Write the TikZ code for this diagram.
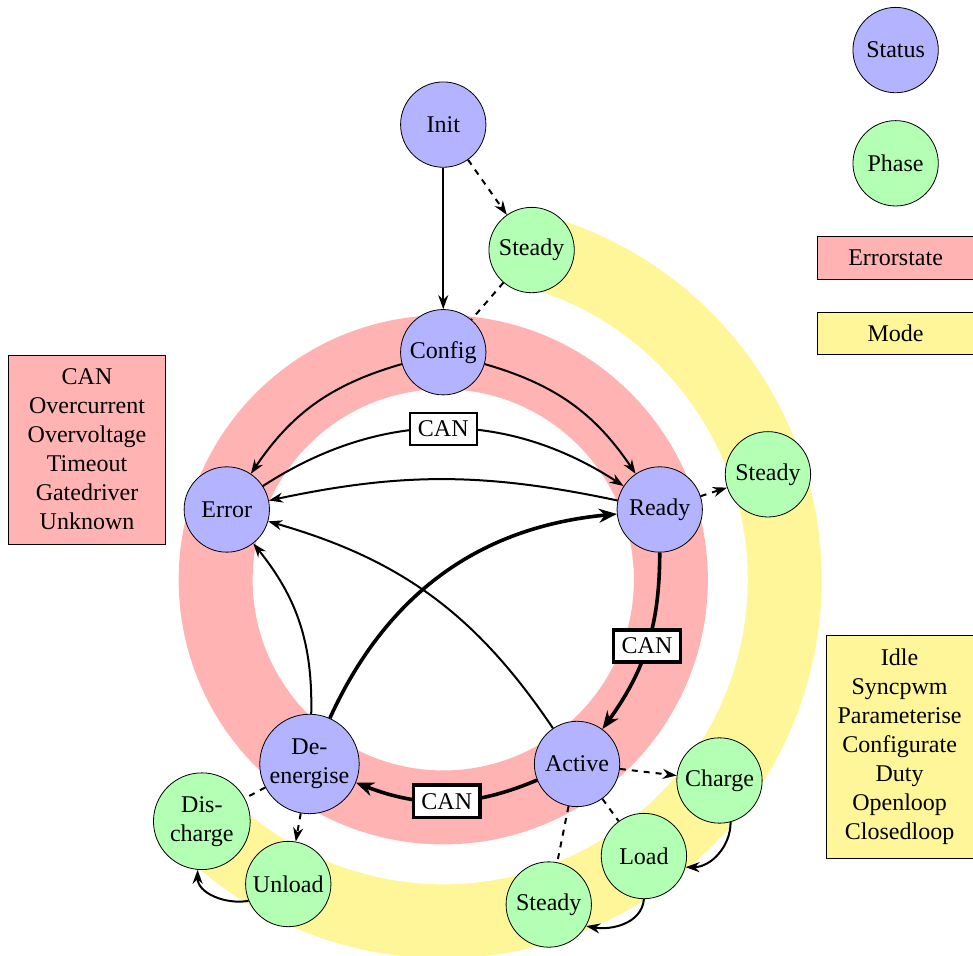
\documentclass[tikz,border=0pt,12pt]{standalone}
\usepackage{fontspec}
\setmainfont{Liberation Serif}
\usetikzlibrary{arrows.meta}
\definecolor{StatusBlue}{RGB}{179,179,255}
\definecolor{PhaseGreen}{RGB}{179,255,179}
\definecolor{ErrorRed}{RGB}{255,179,179}
\definecolor{ModeYellow}{RGB}{255,246,153}
\tikzset{
  status/.style={circle,draw,fill=StatusBlue,minimum size=1.5cm,inner sep=1pt,align=center},
  phase/.style={circle,draw,fill=PhaseGreen,minimum size=1.5cm,inner sep=1pt,align=center},
  errorbox/.style={draw,fill=ErrorRed,minimum width=2.75cm,align=center},
  modebox/.style={draw,fill=ModeYellow,align=center},
  trans/.style={-{Stealth[length=7pt,width=5pt]},line width=1pt},
  cantrans/.style={-{Stealth[length=9pt,width=7pt]},line width=1.8pt},
  link/.style={dashed,line width=1pt},
  canlabel/.style={draw,fill=white},
}

\begin{document}
\begin{tikzpicture}
  \useasboundingbox (-7.79,-6.61) rectangle (9.31,10.19);
  % error ring and mode arc
  \draw[ErrorRed,line width=1.3cm] (0,0) circle (4);
  \draw[ModeYellow,line width=1.3cm] (75:6) arc[start angle=75,end angle=-135,radius=6];

  \node[status] (init) at (90:8) {Init};
  \node[status] (config) at (90:4) {Config};
  \node[status] (error) at (162:4) {Error};
  \node[status] (ready) at (18:4) {Ready};
  \node[status] (active) at (-54:4) {Active};
  \node[status,minimum size=1.7cm] (deenergise) at (-126:4) {De-\\energise};

  \node[phase] (steadyinit) at (75:6) {Steady};
  \node[phase] (steadyready) at (18:6) {Steady};
  \node[phase] (charge) at (-36:6) {Charge};
  \node[phase] (load) at (-54:6) {Load};
  \node[phase] (steadyactive) at (-72:6) {Steady};
  \node[phase] (unload) at (-117:6) {Unload};
  \node[phase,minimum size=1.7cm] (discharge) at (-135:6) {Dis-\\charge};

  % status transitions
  \draw[trans] (init) -- (config);
  \draw[trans] (config) to[bend right=20] (error);
  \draw[trans] (config) to[bend left=20] (ready);
  \draw[trans] (error) to[bend left=33] node[canlabel] {CAN} (ready);
  \draw[trans] (ready) to[bend right=12] (error);
  \draw[trans] (active) to[bend right=20] (error);
  \draw[trans] (deenergise) to[bend right=20] (error);
  \draw[cantrans] (ready) to[bend left=18] node[canlabel] {CAN} (active);
  \draw[cantrans] (active) to[bend left=22] node[canlabel] {CAN} (deenergise);
  \draw[cantrans] (deenergise) to[bend left=30] (ready);

  % phases of each status
  \draw[link,-{Stealth[length=7pt,width=5pt]}] (init) -- (steadyinit);
  \draw[link] (steadyinit) -- (config);
  \draw[link,-{Stealth[length=7pt,width=5pt]}] (ready) -- (steadyready);
  \draw[link,-{Stealth[length=7pt,width=5pt]}] (active) -- (charge);
  \draw[link] (active) -- (load);
  \draw[link] (active) -- (steadyactive);
  \draw[link] (deenergise) -- (discharge);
  \draw[link,-{Stealth[length=7pt,width=5pt]}] (deenergise) -- (unload);
  \draw[trans] (charge.-75) to[out=-90,in=0] (load.-15);
  \draw[trans] (load.-90) to[out=-95,in=-10] (steadyactive.-30);
  \draw[trans] (unload.-157) to[out=190,in=-90] (discharge.-95);

  % legend
  \node[status] (legstatus) at (7.95,9.31) {Status};
  \node[phase] (legphase) at (7.95,7.32) {Phase};
  \node[errorbox,minimum height=0.75cm] (legerror) at (7.95,5.66) {Errorstate};
  \node[modebox,minimum width=2.75cm,minimum height=0.75cm] (legmode) at (7.95,4.33) {Mode};
  \node[errorbox,minimum height=3.32cm] (errorlist) at (-6.26,2.29)
    {CAN\\Overcurrent\\Overvoltage\\Timeout\\Gatedriver\\Unknown};
  \node[modebox,minimum width=2.58cm,minimum height=3.92cm] (modelist) at (8.02,-2.93)
    {Idle\\Syncpwm\\Parameterise\\Configurate\\Duty\\Openloop\\Closedloop};
\end{tikzpicture}
\end{document}
